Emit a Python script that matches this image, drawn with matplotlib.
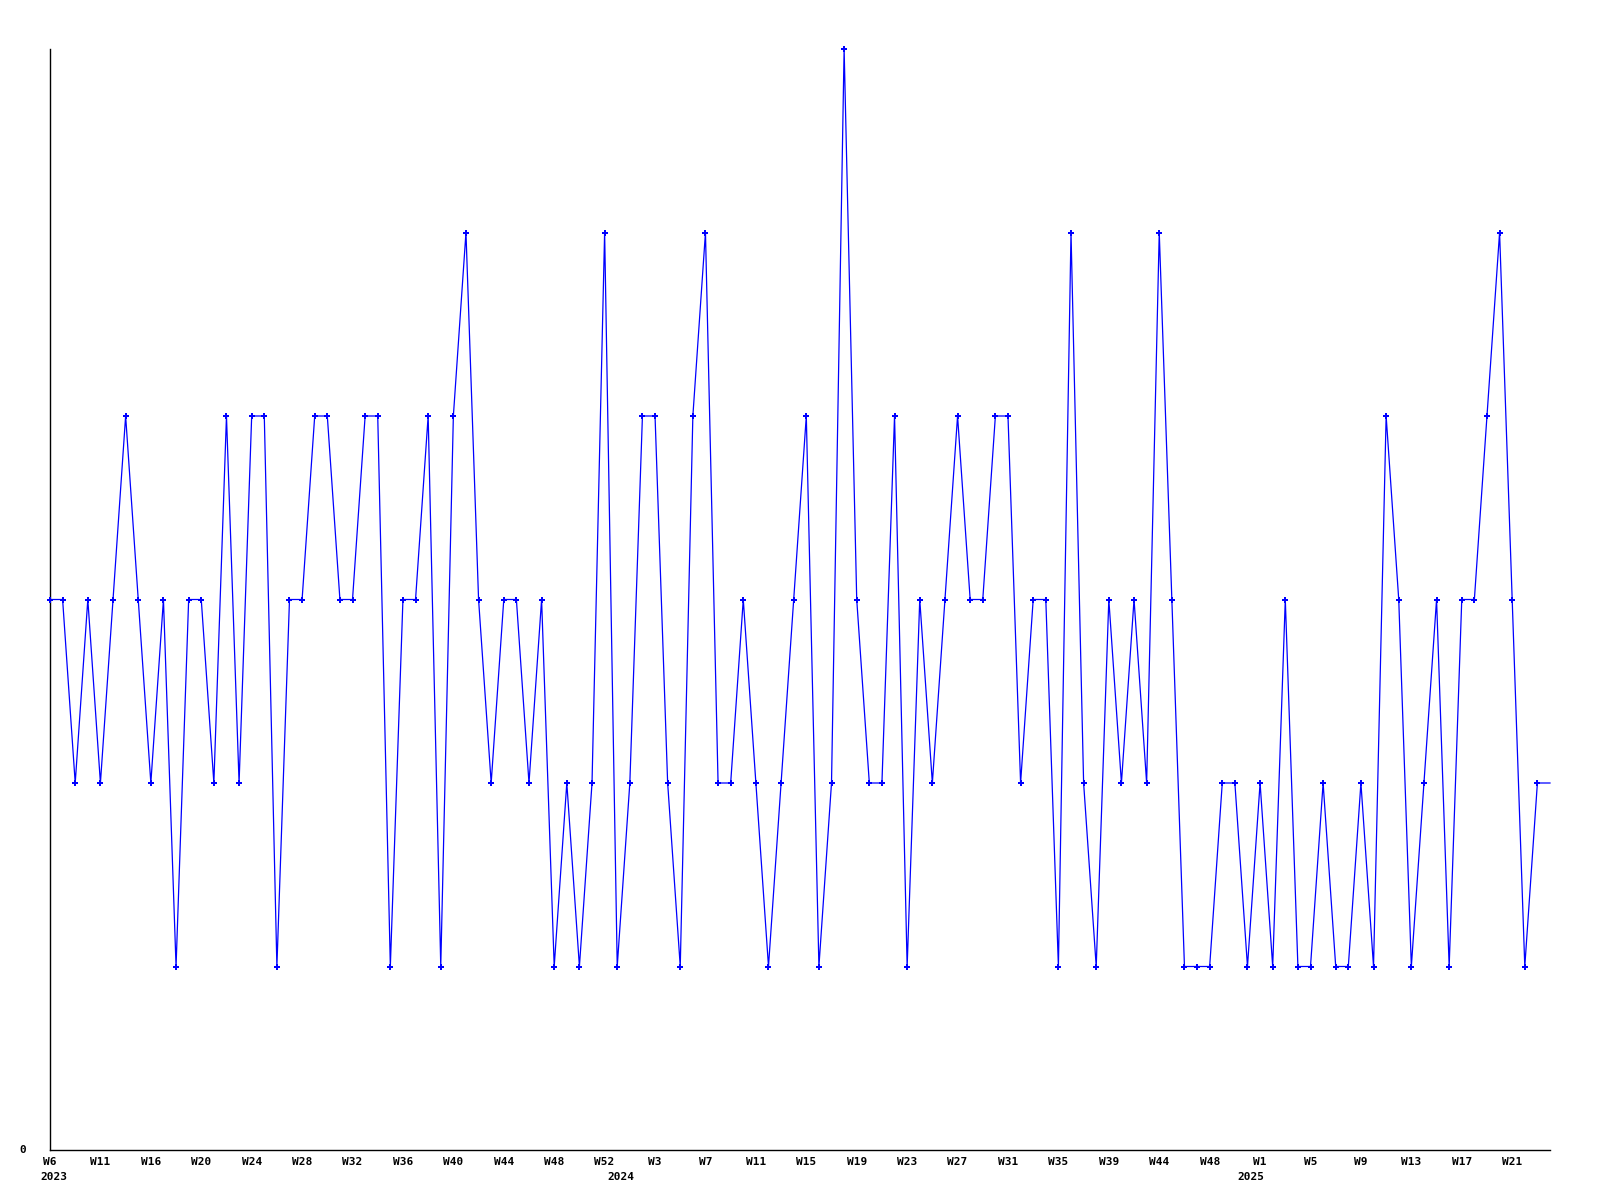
import matplotlib
matplotlib.use("Agg")
import matplotlib.pyplot as plt

# weekly values, 2023 W6 onward
values = [3, 3, 2, 3, 2, 3, 4, 3, 2, 3,
          1, 3, 3, 2, 4, 2, 4, 4, 1, 3,
          3, 4, 4, 3, 3, 4, 4, 1, 3, 3,
          4, 1, 4, 5, 3, 2, 3, 3, 2, 3,
          1, 2, 1, 2, 5, 1, 2, 4, 4, 2,
          1, 4, 5, 2, 2, 3, 2, 1, 2, 3,
          4, 1, 2, 6, 3, 2, 2, 4, 1, 3,
          2, 3, 4, 3, 3, 4, 4, 2, 3, 3,
          1, 5, 2, 1, 3, 2, 3, 2, 5, 3,
          1, 1, 1, 2, 2, 1, 2, 1, 3, 1,
          1, 2, 1, 1, 2, 1, 4, 3, 1, 2,
          3, 1, 3, 3, 4, 5, 3, 1, 2, 2]

week_labels = ["W6", "W11", "W16", "W20", "W24", "W28", "W32", "W36", "W40", "W44",
               "W48", "W52", "W3", "W7", "W11", "W15", "W19", "W23", "W27", "W31",
               "W35", "W39", "W44", "W48", "W1", "W5", "W9", "W13", "W17", "W21"]
week_label_step = 4
year_labels = ["2023", "2024", "2025"]
year_label_index = [0, 45, 95]
y_tick_label = "0"

fig = plt.figure(figsize=(16, 12), dpi=100)
ax = fig.add_axes([50 / 1600, 50 / 1200, 1500 / 1600, 1101 / 1200])

x = list(range(len(values)))
ax.plot(x, values, color="#0000ff", lw=0.9, clip_on=False, zorder=3)
ax.plot(x[:-1], values[:-1], ls="none", marker="P", ms=4.5, mew=0,
        color="#0000ff", clip_on=False, zorder=4)

ax.set_xlim(0, len(values) - 1)
ax.set_ylim(0, 6)

for s in ["top", "right"]:
    ax.spines[s].set_visible(False)
for s in ["left", "bottom"]:
    ax.spines[s].set_color("black")
    ax.spines[s].set_linewidth(1.0)

ax.set_xticks([])
ax.set_yticks([])

font = dict(family="DejaVu Sans Mono", fontweight="bold", fontsize=8, color="black")
trans = ax.get_xaxis_transform()
for i, lab in enumerate(week_labels):
    ax.text(i * week_label_step, -12 / 1101, lab, transform=trans,
            ha="center", va="center", **font)
for idx, lab in zip(year_label_index, year_labels):
    ax.text(idx + 0.3, -27 / 1101, lab, transform=trans,
            ha="center", va="center", **font)
ax.text(-27 / 1500, 0, y_tick_label, transform=ax.get_yaxis_transform(),
        ha="center", va="center", **font)

fig.savefig("out.png", dpi=100)
